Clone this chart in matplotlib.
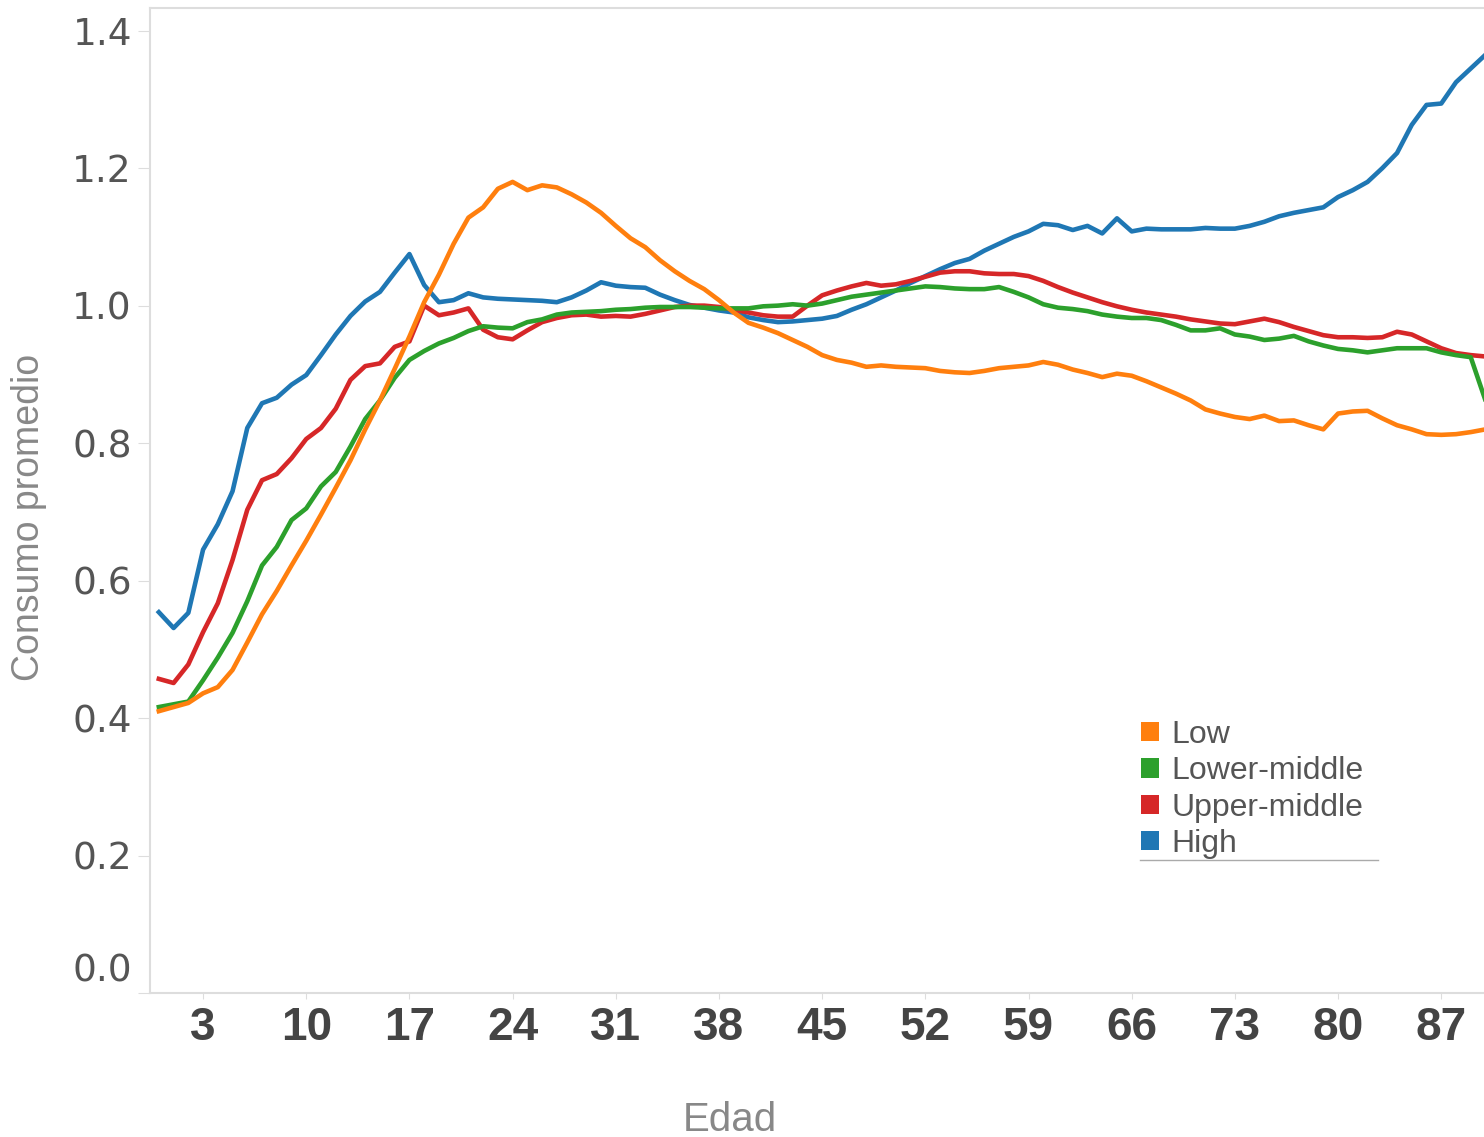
import matplotlib
matplotlib.use("Agg")
import matplotlib.pyplot as plt
import matplotlib.transforms as mtrans
from matplotlib.lines import Line2D
from matplotlib.patches import Patch
from matplotlib import font_manager
import numpy as np

# ages 0..90
ages = list(range(0, 91))

high = [0.554, 0.531, 0.553, 0.645, 0.682, 0.730, 0.822, 0.858, 0.866, 0.885,
        0.899, 0.928, 0.958, 0.985, 1.006, 1.020, 1.048, 1.075, 1.030, 1.005,
        1.008, 1.018, 1.012, 1.010, 1.009, 1.008, 1.007, 1.005, 1.012, 1.022,
        1.034, 1.029, 1.027, 1.026, 1.016, 1.008, 1.001, 0.997, 0.993, 0.990,
        0.983, 0.979, 0.976, 0.977, 0.979, 0.981, 0.985, 0.994, 1.002, 1.012,
        1.022, 1.033, 1.043, 1.053, 1.062, 1.068, 1.080, 1.090, 1.100, 1.108,
        1.119, 1.117, 1.110, 1.116, 1.105, 1.127, 1.108, 1.112, 1.111, 1.111,
        1.111, 1.113, 1.112, 1.112, 1.116, 1.122, 1.130, 1.135, 1.139, 1.143,
        1.158, 1.168, 1.180, 1.200, 1.222, 1.263, 1.292, 1.294, 1.325, 1.345,
        1.365]

upper_middle = [0.457, 0.451, 0.478, 0.525, 0.567, 0.630, 0.703, 0.746, 0.755, 0.778,
                0.806, 0.822, 0.850, 0.892, 0.912, 0.916, 0.940, 0.948, 1.000, 0.986,
                0.990, 0.996, 0.965, 0.954, 0.951, 0.964, 0.976, 0.982, 0.986, 0.987,
                0.984, 0.985, 0.984, 0.988, 0.993, 0.998, 1.000, 1.000, 0.998, 0.994,
                0.990, 0.986, 0.984, 0.984, 1.000, 1.015, 1.022, 1.028, 1.033, 1.029,
                1.031, 1.036, 1.042, 1.048, 1.050, 1.050, 1.047, 1.046, 1.046, 1.043,
                1.036, 1.027, 1.019, 1.012, 1.005, 0.999, 0.994, 0.990, 0.987, 0.984,
                0.980, 0.977, 0.974, 0.973, 0.977, 0.981, 0.976, 0.969, 0.963, 0.957,
                0.954, 0.954, 0.953, 0.954, 0.962, 0.958, 0.948, 0.938, 0.931, 0.928,
                0.926]

lower_middle = [0.416, 0.420, 0.424, 0.455, 0.488, 0.524, 0.570, 0.622, 0.649, 0.688,
                0.705, 0.737, 0.758, 0.795, 0.835, 0.862, 0.895, 0.921, 0.934, 0.945,
                0.953, 0.963, 0.970, 0.968, 0.967, 0.976, 0.980, 0.987, 0.990, 0.991,
                0.992, 0.994, 0.995, 0.997, 0.998, 0.998, 0.998, 0.997, 0.996, 0.996,
                0.996, 0.999, 1.000, 1.002, 1.000, 1.003, 1.008, 1.013, 1.016, 1.019,
                1.022, 1.025, 1.028, 1.027, 1.025, 1.024, 1.024, 1.027, 1.020, 1.012,
                1.002, 0.997, 0.995, 0.992, 0.987, 0.984, 0.982, 0.982, 0.979, 0.972,
                0.964, 0.964, 0.967, 0.958, 0.955, 0.950, 0.952, 0.956, 0.948, 0.942,
                0.937, 0.935, 0.932, 0.935, 0.938, 0.938, 0.938, 0.932, 0.928, 0.925,
                0.862]

low = [0.410, 0.416, 0.422, 0.436, 0.445, 0.470, 0.510, 0.551, 0.585, 0.622,
       0.658, 0.696, 0.735, 0.775, 0.820, 0.862, 0.908, 0.955, 1.005, 1.045,
       1.090, 1.128, 1.143, 1.170, 1.180, 1.168, 1.175, 1.172, 1.162, 1.150,
       1.135, 1.116, 1.098, 1.085, 1.066, 1.050, 1.036, 1.024, 1.008, 0.990,
       0.975, 0.968, 0.960, 0.950, 0.940, 0.928, 0.921, 0.917, 0.911, 0.913,
       0.911, 0.910, 0.909, 0.905, 0.903, 0.902, 0.905, 0.909, 0.911, 0.913,
       0.918, 0.914, 0.907, 0.902, 0.896, 0.901, 0.898, 0.890, 0.881, 0.872,
       0.862, 0.849, 0.843, 0.838, 0.835, 0.840, 0.832, 0.833, 0.826, 0.820,
       0.843, 0.846, 0.847, 0.836, 0.826, 0.820, 0.813, 0.812, 0.813, 0.816,
       0.820]

series_names = ["Low", "Lower-middle", "Upper-middle", "High"]
series_colors = ["#ff7f0e", "#2ca02c", "#d62728", "#1f77b4"]
x_ticks = [3, 10, 17, 24, 31, 38, 45, 52, 59, 66, 73, 80, 87]
y_ticks = [0.0, 0.2, 0.4, 0.6, 0.8, 1.0, 1.2, 1.4]

# narrow font if we have it
names = {f.name for f in font_manager.fontManager.ttflist}
narrow = "Liberation Sans Narrow" if "Liberation Sans Narrow" in names else "Liberation Sans"

W, H, DPI = 1484, 1137, 100
fig = plt.figure(figsize=(W / DPI, H / DPI), dpi=DPI)
ax = fig.add_axes([150 / W, (H - 993) / H, (W - 150) / W, (993 - 8) / H])

data = {"Low": low, "Lower-middle": lower_middle, "Upper-middle": upper_middle, "High": high}
zs = {"High": 1, "Upper-middle": 2, "Lower-middle": 3, "Low": 4}
for name, col in zip(series_names, series_colors):
    ax.plot(ages, data[name], color=col, lw=3.3, zorder=zs[name], solid_joinstyle="round")

ax.set_xlim(-0.6, 89.9)
ax.set_ylim(0, 1.433)

ax.set_xticks(x_ticks)
ax.set_xticklabels([str(t) for t in x_ticks], fontfamily=narrow, fontweight="bold",
                   fontsize=33, color="#444444")
ax.set_yticks(y_ticks)
ax.set_yticklabels(["%.1f" % t for t in y_ticks], fontfamily="DejaVu Sans",
                   fontsize=27, color="#555555")
ax.tick_params(axis="x", length=4, color="#dddddd", pad=5)
ax.tick_params(axis="y", length=9, color="#dddddd", pad=4)

# 0.0 label sits above the axis line
lbl0 = ax.get_yticklabels()[0]
lbl0.set_transform(lbl0.get_transform() + mtrans.ScaledTranslation(0, 0.26, fig.dpi_scale_trans))

for s in ["left", "bottom", "top"]:
    ax.spines[s].set_color("#dddddd")
    ax.spines[s].set_linewidth(1.5)
ax.spines["right"].set_visible(False)

fig.text(29 / W, 1 - 517 / H, "Consumo promedio", rotation=90, ha="center", va="center",
         fontfamily=narrow, fontsize=27, color="#888888")
fig.text(730 / W, 1 - 1120 / H, "Edad", ha="center", va="center",
         fontfamily=narrow, fontsize=29, color="#888888")

handles = [Patch(facecolor=c, edgecolor="none") for c in series_colors]
leg = fig.legend(handles, series_names, loc="upper left",
                 bbox_to_anchor=(1141 / W, 1 - 720 / H), bbox_transform=fig.transFigure,
                 frameon=False, borderpad=0, borderaxespad=0,
                 handlelength=0.55, handleheight=0.55, handletextpad=0.4,
                 labelspacing=0.2, prop={"family": "Liberation Sans", "size": 23})
for t in leg.get_texts():
    t.set_color("#555555")
fig.add_artist(Line2D([1140 / W, 1378 / W], [1 - 860 / H, 1 - 860 / H],
                      transform=fig.transFigure, color="#aaaaaa", lw=1))

fig.savefig("out.png", dpi=DPI)
